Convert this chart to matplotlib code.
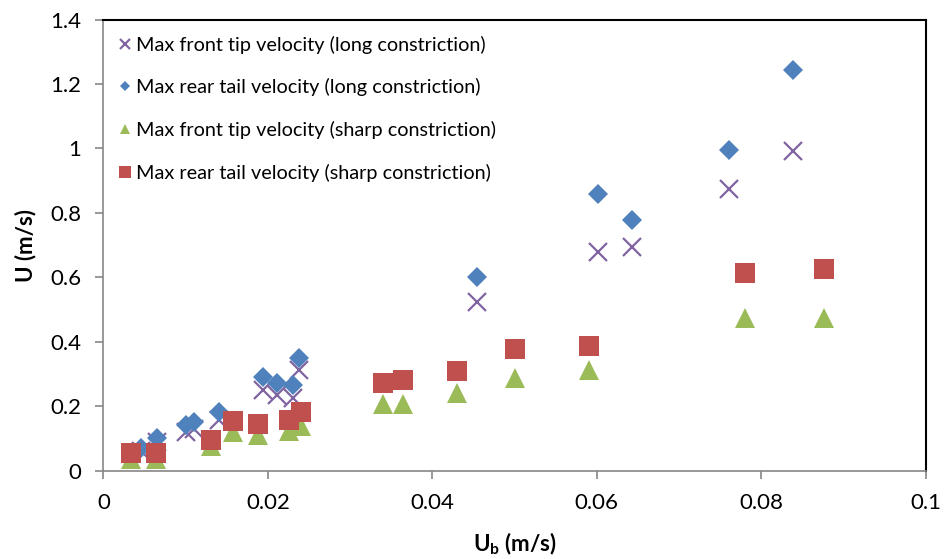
import matplotlib
matplotlib.use("Agg")
import matplotlib.pyplot as plt

plt.rcParams['font.family'] = ['Lato', 'DejaVu Sans']

# Long constriction (front tip = crosses, rear tail = diamonds)
ub_long = [0.0046, 0.0065, 0.0100, 0.0110, 0.0141, 0.0194, 0.0211, 0.0230,
           0.0238, 0.0454, 0.0601, 0.0643, 0.0761, 0.0839]
front_long = [0.06, 0.09, 0.12, 0.13, 0.157, 0.25, 0.235, 0.225,
              0.312, 0.524, 0.68, 0.695, 0.873, 0.992]
rear_long = [0.07, 0.10, 0.142, 0.152, 0.183, 0.292, 0.271, 0.266,
             0.349, 0.602, 0.858, 0.778, 0.995, 1.245]

# Sharp constriction (front tip = triangles, rear tail = squares)
ub_sharp = [0.0034, 0.0064, 0.0131, 0.0158, 0.0188, 0.0226, 0.0240, 0.0340,
            0.0364, 0.0430, 0.0500, 0.0590, 0.0780, 0.0876]
front_sharp = [0.035, 0.035, 0.076, 0.121, 0.111, 0.123, 0.139, 0.208,
               0.207, 0.240, 0.288, 0.312, 0.473, 0.473]
rear_sharp = [0.054, 0.054, 0.095, 0.154, 0.144, 0.157, 0.181, 0.271,
              0.282, 0.309, 0.378, 0.386, 0.614, 0.625]

labels = ['Max front tip velocity (long constriction)',
          'Max rear tail velocity (long constriction)',
          'Max front tip velocity (sharp constriction)',
          'Max rear tail velocity (sharp constriction)']

fig = plt.figure(figsize=(9.44, 5.59), dpi=100)
ax = fig.add_axes([0.1096, 0.158, 0.871, 0.807])

ax.plot(ub_long, front_long, 'x', color='#8064A2', ms=13, mew=1.6, label=labels[0])
ax.plot(ub_long, rear_long, 'D', color='#4F81BD', ms=10, mew=0, label=labels[1])
ax.plot(ub_sharp, front_sharp, '^', color='#9BBB59', ms=14, mew=0, label=labels[2])
ax.plot(ub_sharp, rear_sharp, 's', color='#C0504D', ms=14.5, mew=0, label=labels[3])

ax.set_xlim(0, 0.1)
ax.set_ylim(0, 1.4)
ax.set_xticks([0, 0.02, 0.04, 0.06, 0.08, 0.1])
ax.set_xticklabels(['0', '0.02', '0.04', '0.06', '0.08', '0.1'])
ax.set_yticks([0, 0.2, 0.4, 0.6, 0.8, 1, 1.2, 1.4])
ax.set_yticklabels(['0', '0.2', '0.4', '0.6', '0.8', '1', '1.2', '1.4'])

for s in ['left', 'bottom']:
    ax.spines[s].set_color('#868686')
    ax.spines[s].set_linewidth(1.2)
for s in ['top', 'right']:
    ax.spines[s].set_color('black')
    ax.spines[s].set_linewidth(1.5)
ax.tick_params(direction='out', length=6, width=1.2, color='#868686',
               labelsize=16, pad=10)

ax.set_xlabel('U$_\\mathregular{b}$ (m/s)', fontsize=16, fontweight='bold', labelpad=13)
ax.set_ylabel('U (m/s)', fontsize=16, fontweight='bold', labelpad=10)

ax.legend(loc='upper left', bbox_to_anchor=(0.0, 1.0), frameon=False,
          fontsize=14.3, markerscale=0.55, handlelength=0.55, handletextpad=0.3,
          labelspacing=1.25, borderaxespad=0.3, borderpad=0.5)

fig.savefig('out.png', dpi=100)
